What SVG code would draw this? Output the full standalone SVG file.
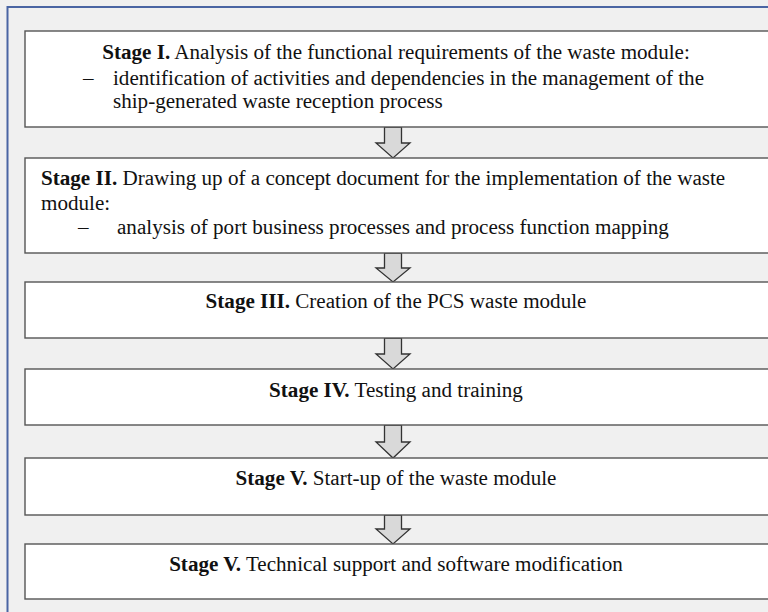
<svg xmlns="http://www.w3.org/2000/svg" width="768" height="612" viewBox="0 0 768 612">
<style>
.box{fill:#ffffff;stroke:#555555;stroke-width:1.4}
.arr{fill:#d9d9d9;stroke:#333333;stroke-width:1.3;stroke-linejoin:miter}
text{font-family:"Liberation Serif","Times New Roman",serif;font-size:21.1px;fill:#111111}
.b{font-weight:bold}
</style>
<rect x="0" y="0" width="768" height="612" fill="#f0f0f0"/>
<path d="M7.5,612 V7 H768" fill="none" stroke="#4a65a3" stroke-width="2"/>
<g id="connectors">
<path class="arr" d="M384.5,127 H401.5 V143 H410 L393,158 L376,143 H384.5 Z"/>
<path class="arr" d="M384.5,253 H401.5 V268 H410 L393,282 L376,268 H384.5 Z"/>
<path class="arr" d="M384.5,338 H401.5 V354 H410 L393,369 L376,354 H384.5 Z"/>
<path class="arr" d="M384.5,425 H401.5 V442 H410 L393,458 L376,442 H384.5 Z"/>
<path class="arr" d="M384.5,515 H401.5 V529 H410 L393,544 L376,529 H384.5 Z"/>
</g>
<g id="stage1">
<rect class="box" x="25" y="31" width="800" height="96"/>
<text x="396" y="59" text-anchor="middle"><tspan class="b">Stage I.</tspan> Analysis of the functional requirements of the waste module:</text>
<text x="83" y="85">–</text>
<text x="113" y="85">identification of activities and dependencies in the management of the</text>
<text x="113" y="108">ship-generated waste reception process</text>
</g>
<g id="stage2">
<rect class="box" x="25" y="158" width="800" height="95"/>
<text x="41" y="185"><tspan class="b">Stage II.</tspan> Drawing up of a concept document for the implementation of the waste</text>
<text x="41" y="210">module:</text>
<text x="78" y="234">–</text>
<text x="117" y="234">analysis of port business processes and process function mapping</text>
</g>
<g id="stage3">
<rect class="box" x="25" y="282" width="800" height="56"/>
<text x="396" y="308" text-anchor="middle"><tspan class="b">Stage III.</tspan> Creation of the PCS waste module</text>
</g>
<g id="stage4">
<rect class="box" x="25" y="369" width="800" height="56"/>
<text x="396" y="397" text-anchor="middle"><tspan class="b">Stage IV.</tspan> Testing and training</text>
</g>
<g id="stage5">
<rect class="box" x="25" y="458" width="800" height="57"/>
<text x="396" y="485" text-anchor="middle"><tspan class="b">Stage V.</tspan> Start-up of the waste module</text>
</g>
<g id="stage6">
<rect class="box" x="25" y="544" width="800" height="55"/>
<text x="396" y="571" text-anchor="middle"><tspan class="b">Stage V.</tspan> Technical support and software modification</text>
</g>
</svg>
